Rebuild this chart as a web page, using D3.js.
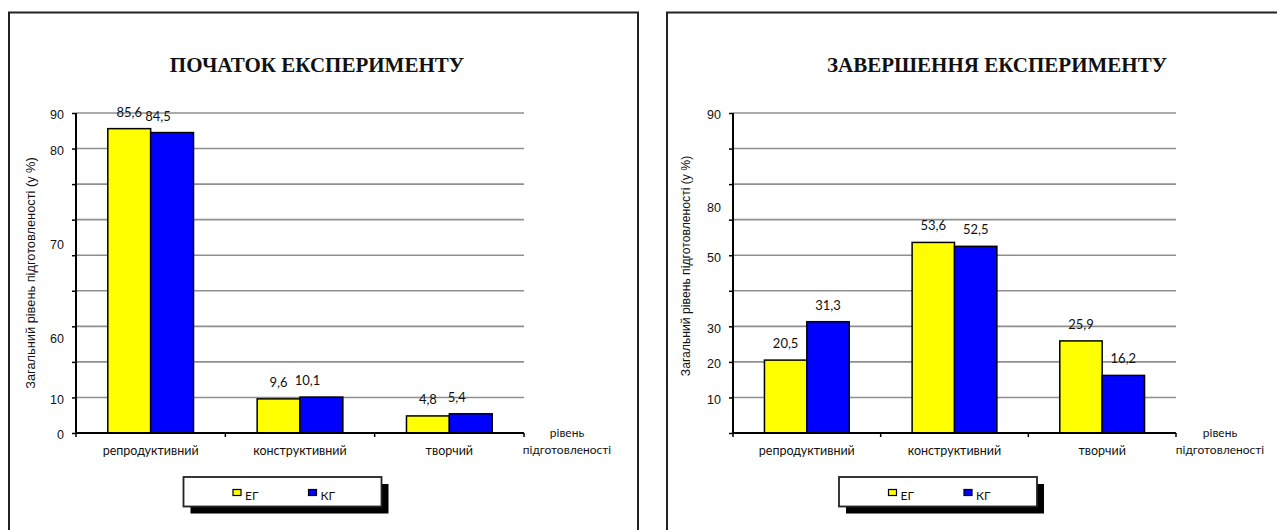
<!DOCTYPE html>
<html>
<head>
<meta charset="utf-8">
<script src="https://cdn.jsdelivr.net/npm/d3@7"></script>
<style>
html,body{margin:0;padding:0;background:#fff;}
svg{display:block;}
</style>
</head>
<body>
<script>
// ---- data ----
const categories = ["репродуктивний", "конструктивний", "творчий"];
const seriesNames = ["ЕГ", "КГ"];
const seriesColors = ["#ffff00", "#0000ff"];
const startEG = [85.6, 9.6, 4.8];
const startKG = [84.5, 10.1, 5.4];
const endEG = [20.5, 53.6, 25.9];
const endKG = [31.3, 52.5, 16.2];
const gridValues = [0, 10, 20, 30, 40, 50, 60, 70, 80, 90];
const startTickLabels = ["90", "80", "70", "60", "10", "0"];
const startTickValues = [90, 80, 53.6, 27, 10, 0];
const endTickLabels = ["90", "80", "50", "30", "20", "10"];
const endTickValues = [90, 64, 50, 30, 20, 10];
const titles = ["ПОЧАТОК ЕКСПЕРИМЕНТУ", "ЗАВЕРШЕННЯ ЕКСПЕРИМЕНТУ"];
const yTitle = "Загальний рівень підготовленості (у %)";
const xTitle = ["рівень", "підготовленості"];

const W = 1277, H = 530;
const svg = d3.select("body").append("svg").attr("width", W).attr("height", H);

const panels = [
  {frameX: 9, frameW: 629, plotX0: 76, plotX1: 524, titleX: 317, yTitleX: 31, yTitleY: 273, yTitleSize: 12.8,
   eg: startEG, kg: startKG, tl: startTickLabels, tv: startTickValues, kgDx: -14,
   xtX: 567, legX: 183.5, title: titles[0]},
  {frameX: 667, frameW: 700, plotX0: 733, plotX1: 1176, titleX: 997, yTitleX: 686, yTitleY: 266, yTitleSize: 12.2,
   eg: endEG, kg: endKG, tl: endTickLabels, tv: endTickValues, kgDx: 0,
   xtX: 1220, legX: 839, title: titles[1]}
];

const sans = "'Liberation Sans', Arial, sans-serif";
const calib = "Lato, 'Open Sans', sans-serif";

panels.forEach(p => {
  const g = svg.append("g");
  // frame
  g.append("rect").attr("x", p.frameX).attr("y", 12.5).attr("width", p.frameW).attr("height", 600)
    .attr("fill", "#fff").attr("stroke", "#222").attr("stroke-width", 2);

  // title
  g.append("text").attr("x", p.titleX).attr("y", 72).attr("text-anchor", "middle")
    .attr("font-family", "'Liberation Serif', 'Times New Roman', serif").attr("font-weight", "bold")
    .attr("font-size", 21).attr("fill", "#111").text(p.title);

  const y = d3.scaleLinear().domain([0, 90]).range([433, 113]);
  const x0 = d3.scaleBand().domain(categories).range([p.plotX0, p.plotX1]).padding(0);
  const bw = x0.bandwidth();
  const barW = bw * 0.287;
  const x1 = d3.scaleBand().domain(seriesNames).range([0, barW * 2]).padding(0);

  // gridlines
  g.append("g").selectAll("line").data(gridValues.filter(v => v > 0)).join("line")
    .attr("x1", p.plotX0).attr("x2", p.plotX1)
    .attr("y1", d => y(d)).attr("y2", d => y(d))
    .attr("stroke", "#8f8f8f").attr("stroke-width", 1.6);

  // bars
  const series = [p.eg, p.kg];
  const groups = g.append("g").selectAll("g").data(categories).join("g")
    .attr("transform", c => `translate(${x0(c) + bw / 2 - barW},0)`);
  groups.selectAll("rect").data((c, i) => seriesNames.map((s, j) => ({s, j, v: series[j][i]}))).join("rect")
    .attr("x", d => x1(d.s)).attr("width", x1.bandwidth())
    .attr("y", d => y(d.v)).attr("height", d => y(0) - y(d.v))
    .attr("fill", d => seriesColors[d.j]).attr("stroke", "#000").attr("stroke-width", 1.5);
  groups.selectAll("text").data((c, i) => seriesNames.map((s, j) => ({s, j, v: series[j][i]}))).join("text")
    .attr("x", d => x1(d.s) + x1.bandwidth() / 2 + (d.j === 1 ? p.kgDx : 0))
    .attr("y", d => y(d.v) - 12)
    .attr("text-anchor", "middle").attr("font-family", calib).attr("font-size", 13).attr("fill", "#111")
    .text(d => String(d.v).replace(".", ","));

  // y axis
  const yAxis = d3.axisLeft(y).tickValues(gridValues).tickSize(4).tickFormat("");
  const ya = g.append("g").attr("transform", `translate(${p.plotX0},0)`).call(yAxis);
  ya.select(".domain").attr("stroke", "#000").attr("stroke-width", 2).attr("d", `M0,${y(90)}V${y(0)}`);
  ya.selectAll(".tick line").attr("stroke", "#000").attr("stroke-width", 1.5);
  // y tick labels
  g.append("g").selectAll("text").data(p.tl).join("text")
    .attr("x", p.plotX0 - 12).attr("y", (d, i) => y(p.tv[i]) + 2)
    .attr("dy", "0.35em").attr("text-anchor", "end")
    .attr("font-family", sans).attr("font-size", 12.5).attr("fill", "#111").text(d => d);

  // x axis
  const bounds = categories.map(c => x0(c)).concat([p.plotX1]);
  g.append("line").attr("x1", p.plotX0).attr("x2", p.plotX1).attr("y1", y(0)).attr("y2", y(0))
    .attr("stroke", "#000").attr("stroke-width", 2);
  g.append("g").selectAll("line").data(bounds).join("line")
    .attr("x1", d => d).attr("x2", d => d).attr("y1", y(0)).attr("y2", y(0) + 4)
    .attr("stroke", "#000").attr("stroke-width", 1.5);
  g.append("g").selectAll("text").data(categories).join("text")
    .attr("x", c => x0(c) + bw / 2).attr("y", 454.5).attr("text-anchor", "middle")
    .attr("font-family", calib).attr("font-size", 12.5).attr("fill", "#111").text(c => c);

  // x title
  g.append("text").attr("x", p.xtX).attr("y", 437).attr("text-anchor", "middle")
    .attr("font-family", calib).attr("font-size", 12).attr("fill", "#111").text(xTitle[0]);
  g.append("text").attr("x", p.xtX).attr("y", 453.5).attr("text-anchor", "middle")
    .attr("font-family", calib).attr("font-size", 12).attr("fill", "#111").text(xTitle[1]);

  // y title
  g.append("text").attr("transform", `translate(${p.yTitleX + 4},${p.yTitleY}) rotate(-90)`)
    .attr("text-anchor", "middle").attr("font-family", sans).attr("font-size", p.yTitleSize)
    .attr("fill", "#111").text(yTitle);

  // legend
  const lg = g.append("g").attr("transform", `translate(${p.legX},477)`);
  lg.append("rect").attr("x", 7).attr("y", 7).attr("width", 198).attr("height", 29.5).attr("fill", "#000");
  lg.append("rect").attr("x", 0).attr("y", 0).attr("width", 198).attr("height", 29.5)
    .attr("fill", "#fff").attr("stroke", "#222").attr("stroke-width", 1.8);
  const items = lg.selectAll("g.it").data(seriesNames).join("g").attr("class", "it")
    .attr("transform", (d, i) => `translate(${49.5 + i * 75.5},0)`);
  items.append("rect").attr("x", 0).attr("y", 12.5).attr("width", 8).attr("height", 6)
    .attr("fill", (d, i) => seriesColors[i]).attr("stroke", "#000").attr("stroke-width", 1.2);
  items.append("text").attr("x", 12).attr("y", 23).attr("font-family", calib).attr("font-size", 12)
    .attr("fill", "#111").text(d => d);
});
</script>
</body>
</html>
